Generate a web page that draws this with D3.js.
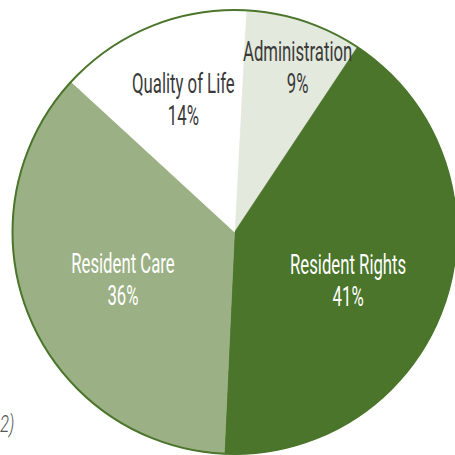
<!DOCTYPE html>
<html>
<head>
<meta charset="utf-8">
<script src="https://cdn.jsdelivr.net/npm/d3@7"></script>
<style>
  body { margin: 0; background: #fff; }
  svg { display: block; }
</style>
</head>
<body>
<div id="pieChart"></div>
<script>
// complaint categories, clockwise from the top
var categories = ["Administration", "Resident Rights", "Resident Care", "Quality of Life"];
var values = [8.5, 41.4, 36.1, 14.0];          // share of the circle
var pctLabels = ["9%", "41%", "36%", "14%"];    // as printed on the chart
var colors = ["#e3e9dc", "#4a752b", "#9bb185", "#ffffff"];
var textColors = ["#3a3a3a", "#ffffff", "#ffffff", "#3a3a3a"];

function pieChart(){
    var width = 455,
        height = 455,
        radius = 222;
    var rad = Math.PI / 180;
    var font = "Roboto, 'DejaVu Sans Condensed', sans-serif";

    var svg = d3.select("#pieChart")
                .append("svg")
                .attr("width", width)
                .attr("height", height);

    // footnote fragment on the left edge
    svg.append("text")
       .attr("x", 0)
       .attr("y", 432)
       .attr("font-family", font)
       .attr("font-style", "italic")
       .attr("font-weight", 300)
       .attr("font-size", 24)
       .attr("fill", "#555")
       .attr("transform", "scale(0.7,1)")
       .text("2)");

    var g = svg.append("g")
               .attr("transform", "translate(234.5,232)");

    var pie = d3.pie()
                .sort(null)
                .startAngle(3 * rad)
                .endAngle(363 * rad)
                .value(function(d) { return d; });

    var arcs = pie(values);

    var arc = d3.arc()
                .innerRadius(0)
                .outerRadius(radius);

    g.selectAll("path.slice")
     .data(arcs)
     .enter().append("path")
     .attr("class", "slice")
     .attr("d", arc)
     .attr("fill", function(d, i) { return colors[i]; })
     .attr("stroke", function(d, i) { return colors[i]; })
     .attr("stroke-width", 0.5);

    // outer rim
    g.append("circle")
     .attr("r", radius)
     .attr("fill", "none")
     .attr("stroke", "#4a752b")
     .attr("stroke-width", 2);

    // label distance from the centre, per slice; labels sit a little clockwise of the middle
    var labelR = [182, 121, 119, 148];
    var shift = 2 * rad;

    var labels = g.selectAll("g.label")
                  .data(arcs)
                  .enter().append("g")
                  .attr("class", "label")
                  .attr("transform", function(d, i) {
                      var a = (d.startAngle + d.endAngle) / 2 + shift;
                      var x = labelR[i] * Math.sin(a),
                          y = -labelR[i] * Math.cos(a);
                      return "translate(" + x + "," + y + ") scale(0.62,1)";
                  });

    labels.append("text")
          .attr("text-anchor", "middle")
          .attr("font-family", font)
          .attr("font-size", 27)
          .attr("fill", function(d, i) { return textColors[i]; })
          .text(function(d, i) { return categories[i]; });

    labels.append("text")
          .attr("text-anchor", "middle")
          .attr("y", 32)
          .attr("font-family", font)
          .attr("font-size", 27)
          .attr("fill", function(d, i) { return textColors[i]; })
          .text(function(d, i) { return pctLabels[i]; });
}

pieChart();
</script>
</body>
</html>
